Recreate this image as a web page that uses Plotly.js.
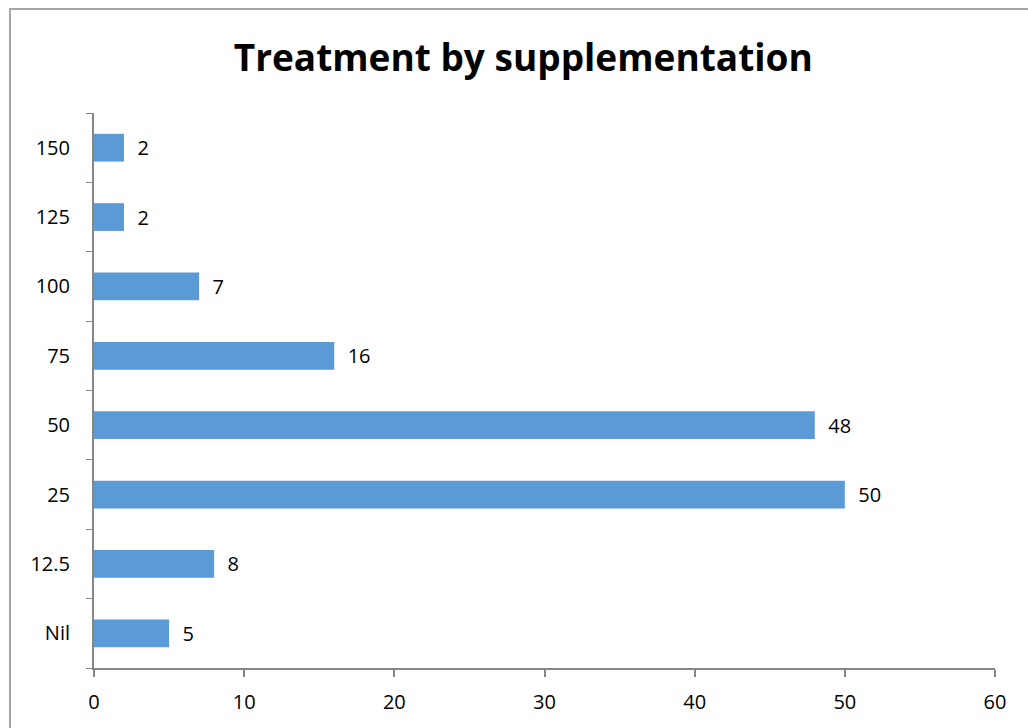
<!DOCTYPE html>
<html>
<head>
<meta charset="utf-8">
<script src="https://cdn.plot.ly/plotly-3.0.1.min.js"></script>
<style>
html,body{margin:0;padding:0;background:#fff;overflow:hidden;}
#wrap{position:relative;width:1028px;height:728px;}
#frame{position:absolute;left:9px;top:8px;width:1040px;height:740px;border:2px solid #a6a6a6;box-sizing:border-box;pointer-events:none;}
#chart{position:absolute;left:0;top:0;width:1028px;height:728px;}
</style>
</head>
<body>
<div id="wrap">
<div id="chart"></div>
<div id="frame"></div>
</div>
<script>
const categories = ["Nil", "12.5", "25", "50", "75", "100", "125", "150"];
const counts = [5, 8, 50, 48, 16, 7, 2, 2];
const xTicks = [0, 10, 20, 30, 40, 50, 60];
const chartTitle = "Treatment by supplementation";

const FONT = "'Open Sans', 'Liberation Sans', sans-serif";

const trace = {
  type: "bar",
  orientation: "h",
  y: categories,
  x: counts,
  marker: {color: "#5b9bd5"},
  text: counts.map(v => "\u00a0\u00a0" + v),
  textposition: "outside",
  cliponaxis: false,
  textfont: {family: FONT, size: 20, color: "#000"},
  hoverinfo: "x+y"
};

const layout = {
  width: 1028,
  height: 728,
  margin: {l: 94, r: 33, t: 113, b: 60},
  paper_bgcolor: "rgba(0,0,0,0)",
  plot_bgcolor: "rgba(0,0,0,0)",
  showlegend: false,
  bargap: 0.6,
  title: {
    text: "<b>" + chartTitle + "</b>",
    font: {family: FONT, size: 37, color: "#000"},
    x: 0.509, xanchor: "center",
    y: 0.08, yanchor: "middle", yref: "container"
  },
  xaxis: {
    range: [0, 60],
    tickvals: xTicks,
    ticktext: xTicks.map(String),
    showgrid: false,
    zeroline: false,
    showline: true,
    linecolor: "#868686",
    linewidth: 2,
    ticks: "outside",
    ticklen: 7,
    tickwidth: 2,
    tickcolor: "#868686",
    ticklabelstandoff: 8,
    tickfont: {family: FONT, size: 20, color: "#000"},
    fixedrange: true
  },
  yaxis: {
    type: "category",
    categoryorder: "array",
    categoryarray: categories,
    showgrid: false,
    zeroline: false,
    showline: true,
    linecolor: "#868686",
    linewidth: 2,
    ticks: "outside",
    tickson: "boundaries",
    ticklen: 6,
    tickwidth: 1,
    tickcolor: "#868686",
    ticklabelstandoff: 18,
    tickfont: {family: FONT, size: 20, color: "#000"},
    fixedrange: true
  }
};

layout.title.y = 0.92;

Plotly.newPlot("chart", [trace], layout, {displayModeBar: false, staticPlot: true});
</script>
</body>
</html>
